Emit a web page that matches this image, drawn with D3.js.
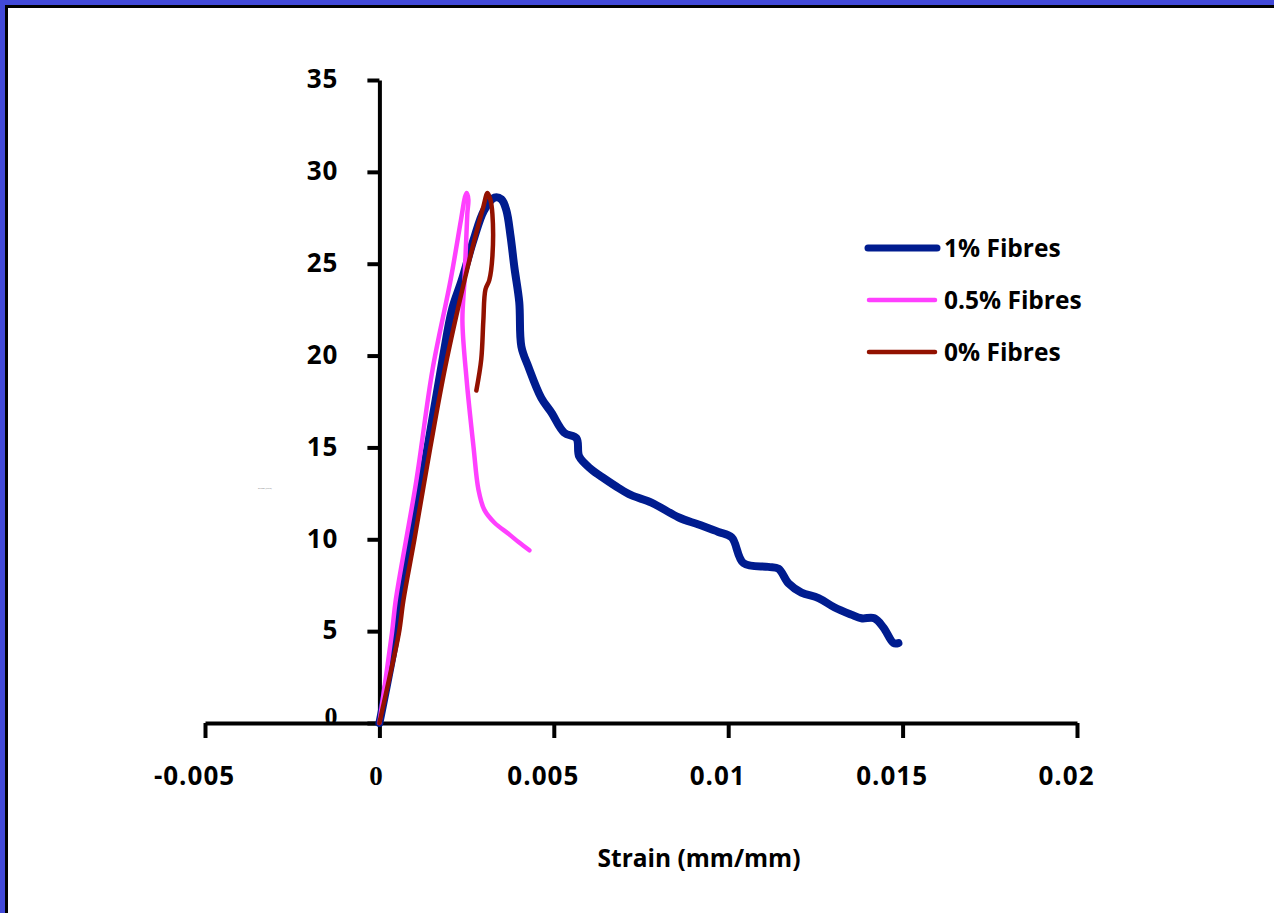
<!DOCTYPE html>
<html>
<head>
<meta charset="utf-8">
<script src="https://cdn.jsdelivr.net/npm/d3@7"></script>
<style>
  body { margin: 0; background: #fff; }
  svg { display: block; }
</style>
</head>
<body>
<div id="chart"></div>
<script>
// strain (mm/mm) / stress (MPa)
var fibre1Strain = [0, 0.00049, 0.0006, 0.00091, 0.00138, 0.00183, 0.00208, 0.00236, 0.0027, 0.0030, 0.0033,
  0.0035, 0.00364, 0.00376, 0.00387, 0.00401, 0.00407, 0.00427, 0.00464, 0.00493, 0.0053, 0.00565,
  0.00573, 0.00608, 0.00645, 0.00685, 0.00722, 0.0078, 0.00857, 0.00915, 0.00972, 0.0101, 0.01044,
  0.01115, 0.01144, 0.01173, 0.0121, 0.01259, 0.01304, 0.01353, 0.01382, 0.01419, 0.01445, 0.01474, 0.01488];
var fibre1Stress = [0, 4.9, 6.7, 9.96, 15.0, 20.0, 22.5, 24.1, 26.3, 27.9, 28.6,
  28.5, 27.9, 26.5, 24.8, 22.9, 20.5, 19.4, 17.7, 16.9, 15.8, 15.5,
  14.5, 13.8, 13.3, 12.8, 12.4, 12.0, 11.2, 10.8, 10.4, 10.1, 8.7,
  8.5, 8.4, 7.6, 7.1, 6.8, 6.3, 5.9, 5.7, 5.7, 5.2, 4.35, 4.35];

var fibre05Strain = [0, 0.00036, 0.00047, 0.00106, 0.00152, 0.00204, 0.00234, 0.00245, 0.0025, 0.00255, 0.00252,
  0.00244, 0.00238, 0.0025, 0.0027, 0.00284, 0.00301, 0.0033, 0.0037, 0.00399, 0.0043];
var fibre05Stress = [0, 4.9, 6.7, 13.2, 19.2, 24.1, 27.4, 28.6, 28.85, 28.5, 27.7,
  24.1, 21.9, 18.7, 15.0, 12.7, 11.6, 10.9, 10.3, 9.85, 9.4];

var fibre0Strain = [0, 0.00028, 0.00056, 0.00069, 0.001, 0.00146, 0.00189, 0.00244, 0.00278, 0.00298, 0.0031,
  0.00318, 0.00324, 0.00324, 0.00315, 0.00304, 0.00298, 0.00292, 0.00278];
var fibre0Stress = [0, 2.4, 4.9, 6.7, 9.96, 15.0, 19.4, 24.1, 26.7, 28.1, 28.85,
  28.5, 27.7, 25.4, 24.1, 23.6, 21.9, 19.8, 18.1];

var seriesNames = ["1% Fibres", "0.5% Fibres", "0% Fibres"];
var xTicks = [-0.005, 0, 0.005, 0.01, 0.015, 0.02];
var xTickLabels = ["-0.005", "0", "0.005", "0.01", "0.015", "0.02"];
var yTicks = [0, 5, 10, 15, 20, 25, 30, 35];

var W = 1274, H = 913;
var svg = d3.select("#chart").append("svg")
    .attr("width", W)
    .attr("height", H);

// frame
svg.append("rect").attr("width", W).attr("height", H).attr("fill", "#4249d8");
svg.append("rect").attr("x", 5).attr("y", 5).attr("width", W + 20).attr("height", H + 20).attr("fill", "#000");
svg.append("rect").attr("x", 8).attr("y", 8).attr("width", W + 20).attr("height", H + 20).attr("fill", "#fff");

var x = d3.scaleLinear().domain([-0.005, 0.02]).range([205, 1077]);
var y = d3.scaleLinear().domain([0, 35]).range([723, 80]);

var sansFont = "'Open Sans', sans-serif";
var serifFont = "'Liberation Serif', 'DejaVu Serif', 'Times New Roman', serif";

// y axis
var yAxis = svg.append("g")
    .attr("transform", "translate(" + x(0) + ",0)")
    .call(d3.axisLeft(y).tickValues(yTicks).tickSize(12).tickSizeOuter(0).tickFormat(d3.format("d")));
yAxis.select(".domain").attr("stroke", "#000").attr("stroke-width", 4);
yAxis.selectAll(".tick line").attr("stroke", "#000").attr("stroke-width", 4);
yAxis.selectAll(".tick text")
    .attr("x", function (d) { return d === 0 ? -42 : -41; })
    .attr("dy", function (d) { return d === 0 ? "0.05em" : "0.3em"; })
    .attr("fill", "#000")
    .attr("font-family", function (d) { return d === 0 ? serifFont : sansFont; })
    .style("font-family", function (d) { return d === 0 ? serifFont : sansFont; })
    .style("letter-spacing", function (d) { return d === 0 ? "0px" : "1px"; })
    .style("font-weight", "bold")
    .style("font-size", "26px");

// x axis (labels sit a little left of their ticks, like the original)
var xAxis = svg.append("g")
    .attr("transform", "translate(0," + y(0) + ")")
    .call(d3.axisBottom(x).tickValues(xTicks).tickSize(15).tickSizeOuter(0)
        .tickFormat(function (d, i) { return xTickLabels[i]; }));
xAxis.select(".domain").attr("stroke", "#000").attr("stroke-width", 4);
xAxis.selectAll(".tick text")
    .attr("y", 53)
    .attr("dy", "0.35em")
    .attr("dx", function (d) { return d === 0 ? -4 : -11; })
    .attr("fill", "#000")
    .attr("font-family", function (d) { return d === 0 ? serifFont : sansFont; })
    .style("font-family", function (d) { return d === 0 ? serifFont : sansFont; })
    .style("letter-spacing", function (d) { return d === 0 ? "0px" : "1px"; })
    .style("font-weight", "bold")
    .style("font-size", function (d) { return d === 0 ? "27px" : "26px"; });
xAxis.selectAll(".tick line").attr("stroke", "#000").attr("stroke-width", 4);

// axis titles
svg.append("text")
    .attr("x", 699)
    .attr("y", 858)
    .attr("text-anchor", "middle")
    .attr("dy", "0.35em")
    .style("font-family", sansFont)
    .style("font-weight", "bold")
    .style("font-size", "24.5px")
    .text("Strain (mm/mm)");

// tiny leftover y title
svg.append("text")
    .attr("x", 258)
    .attr("y", 489)
    .style("font-family", sansFont)
    .style("font-size", "2.4px")
    .attr("fill", "#777")
    .text("Stress (MPa)");

var line = d3.line()
    .curve(d3.curveCatmullRom.alpha(0.5))
    .x(function (d) { return x(d[0]); })
    .y(function (d) { return y(d[1]); });

var series = [
  { name: seriesNames[0], strain: fibre1Strain, stress: fibre1Stress, color: "#001c8f", width: 8 },
  { name: seriesNames[1], strain: fibre05Strain, stress: fibre05Stress, color: "#ff40ff", width: 4.5 },
  { name: seriesNames[2], strain: fibre0Strain, stress: fibre0Stress, color: "#921100", width: 4.5 }
];

svg.append("g")
    .selectAll("path")
    .data(series)
    .enter()
    .append("path")
    .attr("fill", "none")
    .attr("stroke", function (d) { return d.color; })
    .attr("stroke-width", function (d) { return d.width; })
    .attr("stroke-linejoin", "round")
    .attr("stroke-linecap", "round")
    .attr("d", function (d) {
      return line(d.strain.map(function (s, i) { return [s, d.stress[i]]; }));
    });

// legend
var legend = svg.append("g")
    .selectAll("g")
    .data(series)
    .enter()
    .append("g")
    .attr("transform", function (d, i) { return "translate(867," + (248 + i * 52) + ")"; });
legend.append("line")
    .attr("x1", function (d, i) { return i === 0 ? 1 : 2; })
    .attr("x2", function (d, i) { return i === 0 ? 70 : 68; })
    .attr("stroke", function (d) { return d.color; })
    .attr("stroke-width", function (d, i) { return i === 0 ? 7 : d.width; })
    .attr("stroke-linecap", "round");
legend.append("text")
    .attr("x", 77)
    .attr("dy", "0.35em")
    .style("font-family", sansFont)
    .style("font-weight", "bold")
    .style("font-size", "24.5px")
    .text(function (d) { return d.name; });
</script>
</body>
</html>
